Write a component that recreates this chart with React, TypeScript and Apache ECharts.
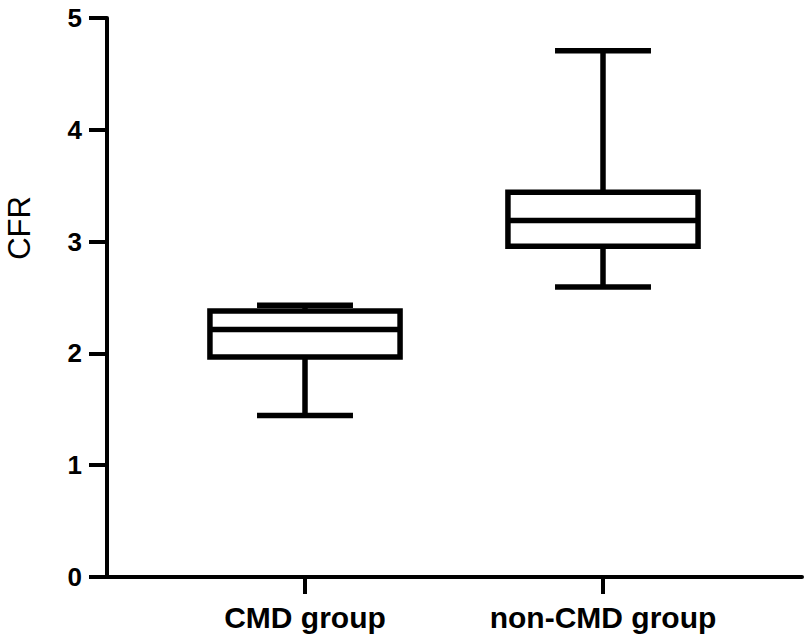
import React, { useEffect, useRef } from "react";
import * as echarts from "echarts";

const categories = ["CMD group", "non-CMD group"];
// [min, Q1, median, Q3, max]
const cmdValues = [1.445, 1.968, 2.214, 2.38, 2.43];
const nonCmdValues = [2.594, 2.958, 3.189, 3.442, 4.707];
const yTicks = [0, 1, 2, 3, 4, 5];
const yTitle = "CFR";

const FONT = "'Liberation Sans', Arial, Helvetica, sans-serif";

export default function App() {
  const ref = useRef<HTMLDivElement>(null);

  useEffect(() => {
    if (!ref.current) return;
    const chart = echarts.init(ref.current, null, { renderer: "svg" });
    const boxData = [cmdValues, nonCmdValues].map((v, i) => [i, ...v]);
    const lw = 5.5;

    const option: any = {
      animation: false,
      backgroundColor: "#ffffff",
      grid: [
        { left: 107, right: 8, top: 18, bottom: 67 },
        { left: 156, right: 58, top: 18, bottom: 67 },
      ],
      xAxis: [
        {
          gridIndex: 0,
          type: "value",
          min: 0,
          max: 1,
          axisLine: { show: true, lineStyle: { color: "#000", width: 4 } },
          axisTick: { show: false },
          axisLabel: { show: false },
          splitLine: { show: false },
        },
        {
          gridIndex: 1,
          type: "category",
          data: categories,
          boundaryGap: true,
          axisLine: { show: false },
          axisTick: {
            show: true,
            alignWithLabel: true,
            length: 17,
            lineStyle: { color: "#000", width: 4 },
          },
          axisLabel: {
            color: "#000",
            fontFamily: FONT,
            fontWeight: "bold",
            fontSize: 30,
            margin: 25,
          },
          splitLine: { show: false },
        },
      ],
      yAxis: [
        {
          gridIndex: 0,
          type: "value",
          min: yTicks[0],
          max: yTicks[yTicks.length - 1],
          interval: 1,
          axisLine: { show: true, lineStyle: { color: "#000", width: 4 } },
          axisTick: {
            show: true,
            length: 18,
            lineStyle: { color: "#000", width: 4 },
          },
          axisLabel: {
            color: "#000",
            fontFamily: FONT,
            fontWeight: "bold",
            fontSize: 26,
            margin: 25,
          },
          splitLine: { show: false },
        },
        {
          gridIndex: 1,
          type: "value",
          min: yTicks[0],
          max: yTicks[yTicks.length - 1],
          interval: 1,
          show: false,
        },
      ],
      graphic: [
        {
          type: "text",
          x: 19,
          y: 228,
          rotation: Math.PI / 2,
          style: {
            text: yTitle,
            fill: "#000",
            font: `normal 31px ${FONT}`,
            textAlign: "center",
            textVerticalAlign: "middle",
          },
        },
      ],
      series: [
        {
          type: "custom",
          xAxisIndex: 1,
          yAxisIndex: 1,
          data: boxData,
          encode: { x: 0, y: [1, 2, 3, 4, 5] },
          renderItem: (params: any, api: any) => {
            const idx = api.value(0);
            const band = api.size([1, 0])[0];
            const cx = api.coord([idx, 0])[0];
            const yMin = api.coord([idx, api.value(1)])[1];
            const yQ1 = api.coord([idx, api.value(2)])[1];
            const yMed = api.coord([idx, api.value(3)])[1];
            const yQ3 = api.coord([idx, api.value(4)])[1];
            const yMax = api.coord([idx, api.value(5)])[1];
            const boxW = band * 0.638;
            const capW = band * 0.322;
            const style = { stroke: "#000", lineWidth: lw, fill: null };
            return {
              type: "group",
              children: [
                {
                  type: "line",
                  shape: { x1: cx, y1: yQ3, x2: cx, y2: yMax },
                  style,
                },
                {
                  type: "line",
                  shape: { x1: cx, y1: yQ1, x2: cx, y2: yMin },
                  style,
                },
                {
                  type: "line",
                  shape: { x1: cx - capW / 2, y1: yMax, x2: cx + capW / 2, y2: yMax },
                  style,
                },
                {
                  type: "line",
                  shape: { x1: cx - capW / 2, y1: yMin, x2: cx + capW / 2, y2: yMin },
                  style,
                },
                {
                  type: "rect",
                  shape: { x: cx - boxW / 2, y: yQ3, width: boxW, height: yQ1 - yQ3 },
                  style: { stroke: "#000", lineWidth: lw, fill: "#fff" },
                },
                {
                  type: "line",
                  shape: { x1: cx - boxW / 2, y1: yMed, x2: cx + boxW / 2, y2: yMed },
                  style,
                },
              ],
            };
          },
        },
      ],
    };

    chart.setOption(option);
    return () => chart.dispose();
  }, []);

  return (
    <div
      ref={ref}
      style={{ position: "fixed", left: 0, top: 0, width: 810, height: 644, background: "#fff" }}
    />
  );
}
